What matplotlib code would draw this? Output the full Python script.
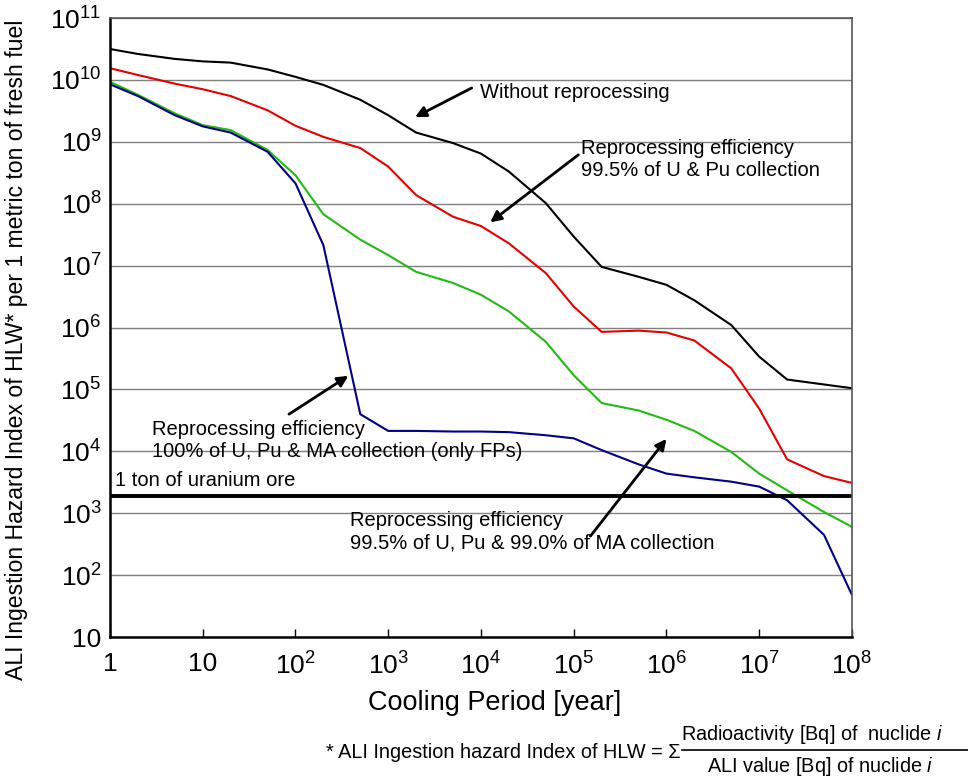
import numpy as np
import matplotlib
matplotlib.use("Agg")
import matplotlib.pyplot as plt
from matplotlib.lines import Line2D
from matplotlib.ticker import FixedLocator, FixedFormatter

plt.rcParams['font.family'] = ['Liberation Sans', 'DejaVu Sans']
plt.rcParams['mathtext.fontset'] = 'custom'
plt.rcParams['mathtext.rm'] = 'Liberation Sans'
plt.rcParams['mathtext.it'] = 'Liberation Sans:italic'

# cooling period [year]
years = [1, 2, 5, 10, 20, 50, 1e2, 2e2, 5e2, 1e3, 2e3, 5e3, 1e4, 2e4, 5e4,
         1e5, 2e5, 5e5, 1e6, 2e6, 5e6, 1e7, 2e7, 5e7, 1e8]

# log10 of hazard index per ton of fresh fuel
no_reproc = [10.50, 10.42, 10.34, 10.30, 10.28, 10.17, 10.05, 9.92, 9.68, 9.43,
             9.15, 8.98, 8.81, 8.52, 8.01, 7.47, 6.98, 6.82, 6.69, 6.44,
             6.04, 5.53, 5.16, 5.08, 5.02]
upu_995 = [10.19, 10.08, 9.94, 9.85, 9.74, 9.51, 9.26, 9.08, 8.90, 8.60,
           8.14, 7.79, 7.64, 7.36, 6.88, 6.34, 5.93, 5.95, 5.92, 5.79,
           5.34, 4.69, 3.87, 3.60, 3.49]
upu_ma_99 = [9.97, 9.76, 9.46, 9.27, 9.19, 8.87, 8.46, 7.83, 7.42, 7.17,
             6.90, 6.72, 6.53, 6.26, 5.77, 5.23, 4.78, 4.66, 4.51, 4.33,
             3.99, 3.64, 3.37, 3.02, 2.78]
fp_only = [9.93, 9.74, 9.43, 9.25, 9.15, 8.84, 8.33, 7.33, 4.60, 4.33,
           4.33, 4.32, 4.32, 4.31, 4.26, 4.21, 4.02, 3.79, 3.64, 3.58,
           3.51, 3.43, 3.21, 2.65, 1.68]

uranium_ore = 1.9e3

x = np.array(years)
fig = plt.figure(figsize=(9.68, 7.78), dpi=100)
ax = fig.add_axes([0.1136, 0.1812, 0.7665, 0.7956])

ax.plot(x, 10 ** np.array(no_reproc), color='black', lw=1.5)
ax.plot(x, 10 ** np.array(upu_995), color='#e60000', lw=1.5)
ax.plot(x, 10 ** np.array(upu_ma_99), color='#22bb11', lw=1.5)
ax.plot(x, 10 ** np.array(fp_only), color='#000088', lw=1.5)
ax.axhline(uranium_ore, color='black', lw=2.8)

ax.set_xscale('log')
ax.set_yscale('log')
ax.set_xlim(1, 1e8)
ax.set_ylim(10, 1e11)

xt = [10.0 ** k for k in range(0, 9)]
xl = ['1', '10'] + [r'$\mathregular{10^{%d}}$' % k for k in range(2, 9)]
ax.xaxis.set_major_locator(FixedLocator(xt))
ax.xaxis.set_major_formatter(FixedFormatter(xl))
yt = [10.0 ** k for k in range(1, 12)]
yl = ['10'] + [r'$\mathregular{10^{%d}}$' % k for k in range(2, 12)]
ax.yaxis.set_major_locator(FixedLocator(yt))
ax.yaxis.set_major_formatter(FixedFormatter(yl))
ax.minorticks_off()
ax.tick_params(axis='x', direction='in', length=6, width=1, labelsize=19, pad=11)
ax.tick_params(axis='y', direction='in', length=0, labelsize=19, pad=6)

ax.grid(axis='y', color='#808080', lw=1)
ax.set_axisbelow(True)
for s in ['left', 'bottom']:
    ax.spines[s].set_linewidth(1.8)
for s in ['top', 'right']:
    ax.spines[s].set_color('#555555')
    ax.spines[s].set_linewidth(1.2)

ax.set_xlabel('Cooling Period [year]', fontsize=19.5)
ax.xaxis.set_label_coords(0.519, -0.085)
ax.set_ylabel('ALI Ingestion Hazard Index of HLW* per 1 metric ton of fresh fuel',
              fontsize=16.6)
ax.yaxis.set_label_coords(-0.111, 0.464)

arrow = dict(arrowstyle='-|>', color='black', lw=2, mutation_scale=16,
             shrinkA=0, shrinkB=0)
ax.annotate('', xy=(10 ** 3.29, 10 ** 9.40), xytext=(10 ** 3.90, 10 ** 9.87),
            arrowprops=arrow)
ax.text(10 ** 3.99, 10 ** 9.79, 'Without reprocessing', fontsize=14.5, va='center')

ax.annotate('', xy=(10 ** 4.10, 10 ** 7.70), xytext=(10 ** 5.05, 10 ** 8.79),
            arrowprops=arrow)
ax.text(10 ** 5.08, 10 ** 8.72, 'Reprocessing efficiency\n99.5% of U & Pu collection',
        fontsize=14.5, va='center', linespacing=1.2)

ax.annotate('', xy=(10 ** 2.57, 10 ** 5.22), xytext=(10 ** 1.93, 10 ** 4.60),
            arrowprops=arrow)
ax.text(10 ** 0.45, 10 ** 4.18,
        'Reprocessing efficiency\n100% of U, Pu & MA collection (only FPs)',
        fontsize=14.5, va='center', linespacing=1.2)

ax.annotate('', xy=(10 ** 6.00, 10 ** 4.20), xytext=(10 ** 5.18, 10 ** 2.63),
            arrowprops=arrow)
ax.text(10 ** 2.59, 10 ** 2.70,
        'Reprocessing efficiency\n99.5% of U, Pu & 99.0% of MA collection',
        fontsize=14.5, va='center', linespacing=1.2)

ax.text(10 ** 0.054, uranium_ore * 1.25, '1 ton of uranium ore', fontsize=14.5,
        va='bottom')

# footnote with the index definition
fig.text(680 / 968, 1 - 752 / 778, '* ALI Ingestion hazard Index of HLW = \u03a3',
         fontsize=14.3, ha='right', va='center')
fig.text(812 / 968, 1 - 735 / 778, r'Radioactivity [Bq] of  nuclide $\it{i}$',
         fontsize=14.3, ha='center', va='center')
fig.text(820 / 968, 1 - 767 / 778, r'ALI value [Bq] of nuclide $\it{i}$',
         fontsize=14.3, ha='center', va='center')
fig.add_artist(Line2D([682 / 968, 1.0], [1 - 750 / 778, 1 - 750 / 778],
                      color='black', lw=1.2))

fig.savefig('out.png', dpi=100)
